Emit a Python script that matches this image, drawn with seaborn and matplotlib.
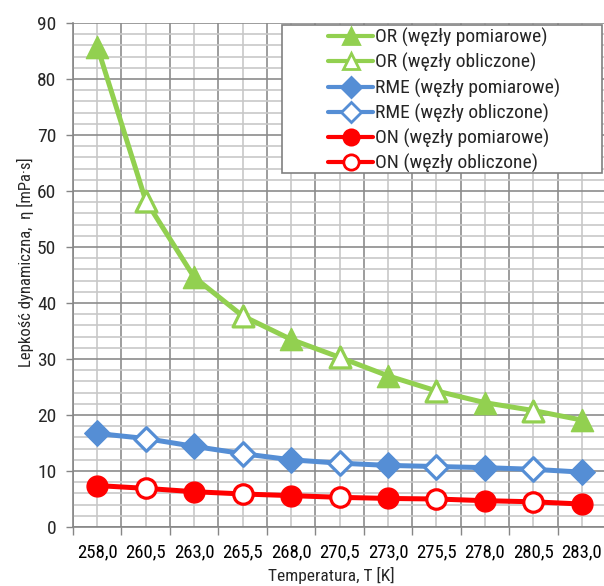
import numpy as np
import pandas as pd
import seaborn as sns
import matplotlib.pyplot as plt
from matplotlib.lines import Line2D
from matplotlib.patches import Rectangle
from matplotlib.ticker import MultipleLocator, FixedLocator

# temperatures (category axis) and viscosity values
temps = [258.0, 260.5, 263.0, 265.5, 268.0, 270.5, 273.0, 275.5, 278.0, 280.5, 283.0]
temp_labels = ['258,0', '260,5', '263,0', '265,5', '268,0', '270,5',
               '273,0', '275,5', '278,0', '280,5', '283,0']
eta_or = [85.8, 58.3, 44.6, 37.7, 33.5, 30.3, 27.0, 24.3, 22.2, 20.8, 19.1]
eta_rme = [16.7, 15.8, 14.4, 13.1, 12.0, 11.4, 11.0, 10.8, 10.6, 10.3, 9.8]
eta_on = [7.4, 6.9, 6.3, 5.9, 5.6, 5.3, 5.1, 5.0, 4.7, 4.5, 4.1]

fuels = ['OR', 'RME', 'ON']
colors = {'OR': '#92D050', 'RME': '#558ED5', 'ON': '#FF0000'}
markers = {'OR': '^', 'RME': 'D', 'ON': 'o'}
msize = {'OR': 16, 'RME': 13, 'ON': 15}
leg_msize = {'OR': 12, 'RME': 10, 'ON': 11}

rows = []
for fuel, vals in zip(fuels, [eta_or, eta_rme, eta_on]):
    for i, (lab, v) in enumerate(zip(temp_labels, vals)):
        rows.append({'T': lab, 'eta': v, 'fuel': fuel,
                     'kind': 'pomiarowe' if i % 2 == 0 else 'obliczone'})
df = pd.DataFrame(rows)

sns.set_style('white')
plt.rcParams['font.family'] = ['Roboto Condensed', 'DejaVu Sans']
plt.rcParams['font.stretch'] = 'condensed'

fig = plt.figure(figsize=(6.04, 5.86), dpi=100)
ax = fig.add_axes([73 / 604, 59 / 586, 533 / 604, 504 / 586])

for fuel in fuels:
    d = df[df['fuel'] == fuel]
    sns.lineplot(data=d, x='T', y='eta', color=colors[fuel], lw=3.6,
                 sort=False, legend=False, ax=ax, zorder=3)
    meas = d[d['kind'] == 'pomiarowe']
    calc = d[d['kind'] == 'obliczone']
    sns.scatterplot(data=meas, x='T', y='eta', marker=markers[fuel],
                    s=msize[fuel] ** 2, color=colors[fuel], edgecolor=colors[fuel],
                    linewidth=1, legend=False, ax=ax, zorder=4)
    sns.scatterplot(data=calc, x='T', y='eta', marker=markers[fuel],
                    s=(msize[fuel] - 1) ** 2, facecolor='white', edgecolor=colors[fuel],
                    linewidth=2.3, legend=False, ax=ax, zorder=4)

ax.set_xlim(-0.5, len(temps) - 0.5)
ax.set_ylim(0, 90)

# category ticks: labels at centres, tick marks at boundaries
ax.xaxis.set_major_locator(FixedLocator(np.arange(len(temps))))
ax.set_xticklabels(temp_labels)
ax.xaxis.set_minor_locator(FixedLocator(np.arange(len(temps) + 1) - 0.5))
ax.yaxis.set_major_locator(MultipleLocator(10))
ax.yaxis.set_minor_locator(MultipleLocator(2))

ax.tick_params(axis='x', which='major', length=0, pad=12, labelsize=13.5, colors='black')
ax.tick_params(axis='x', which='minor', length=6, width=1, color='#868686', direction='out', bottom=True)
ax.tick_params(axis='y', which='major', length=5, width=1, color='#868686', direction='out',
               pad=7, labelsize=14, left=True)
ax.tick_params(axis='y', which='minor', length=0)

ax.grid(True, axis='x', which='minor', color='#8C8C8C', lw=1.2)
ax.grid(True, axis='x', which='major', color='#C8C8C8', lw=1.2)
ax.grid(True, axis='y', which='major', color='#8C8C8C', lw=1.2)
ax.grid(True, axis='y', which='minor', color='#C8C8C8', lw=1.2)
ax.set_axisbelow(True)

for side in ['top', 'right']:
    ax.spines[side].set_visible(False)
for side in ['left', 'bottom']:
    ax.spines[side].set_color('#868686')
    ax.spines[side].set_linewidth(1.2)

ax.set_xlabel('Temperatura, T [K]', fontsize=12.5)
ax.set_ylabel('Lepkość dynamiczna,  η [mPa·s]', fontsize=12)
ax.xaxis.set_label_coords(0.484, -0.080)
ax.yaxis.set_label_coords(-0.074, 0.526)

# legend frame (entries are centred inside it, as in the original)
ax.add_patch(Rectangle((0.392, 0.703), 0.6, 0.293, transform=ax.transAxes,
                       facecolor='white', edgecolor='#808080', lw=1.2, zorder=9, clip_on=False))

handles = []
labels = []
for fuel in fuels:
    for kind in ['pomiarowe', 'obliczone']:
        filled = kind == 'pomiarowe'
        handles.append(Line2D([], [], color=colors[fuel], lw=3, marker=markers[fuel],
                              ms=leg_msize[fuel],
                              mfc=colors[fuel] if filled else 'white',
                              mec=colors[fuel], mew=2.0))
        labels.append(f'{fuel} (węzły {kind})')

leg = ax.legend(handles, labels, loc='upper center', bbox_to_anchor=(0.697, 0.990),
                fontsize=14, frameon=False, borderaxespad=0, borderpad=0,
                handlelength=2.3, handletextpad=0.12, labelspacing=0.31)
leg.set_zorder(10)

fig.savefig('out.png', dpi=100)
